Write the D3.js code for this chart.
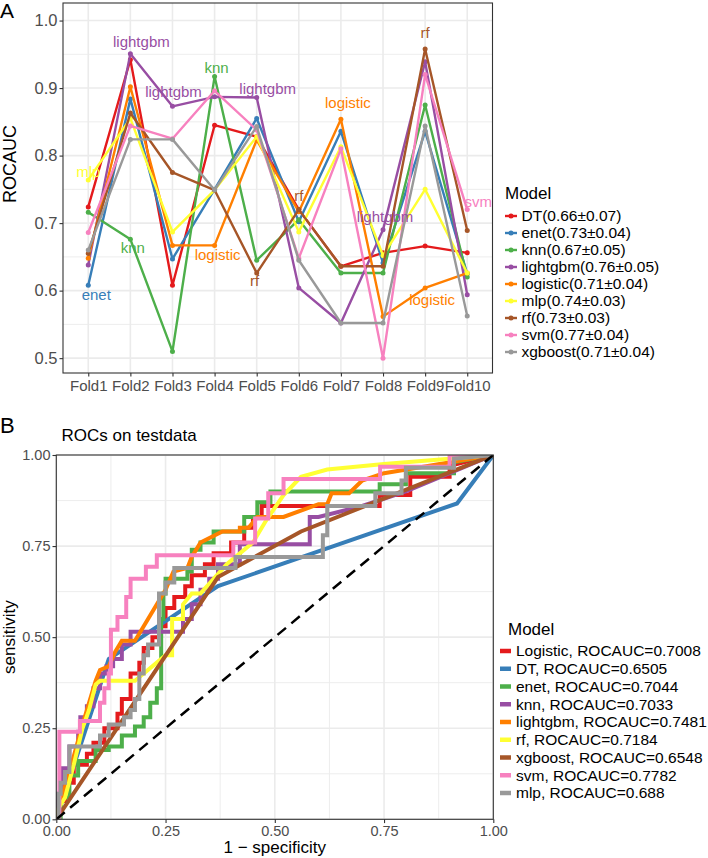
<!DOCTYPE html>
<html>
<head>
<meta charset="utf-8">
<script src="https://cdn.jsdelivr.net/npm/d3@7/dist/d3.min.js"></script>
<style>
  html, body { margin: 0; padding: 0; background: #fff; }
  svg { display: block; }
  text { font-family: "Liberation Sans", Arial, Helvetica, sans-serif; }
</style>
</head>
<body>
<script>
// ---------------- DATA ----------------
// Panel A: cross-validation ROCAUC per fold
const folds = ["Fold1","Fold2","Fold3","Fold4","Fold5","Fold6","Fold7","Fold8","Fold9","Fold10"];
const cvModels = ["DT","enet","knn","lightgbm","logistic","mlp","rf","svm","xgboost"];
const cvLegendLabels = ["DT(0.66±0.07)","enet(0.73±0.04)","knn(0.67±0.05)","lightgbm(0.76±0.05)",
  "logistic(0.71±0.04)","mlp(0.74±0.03)","rf(0.73±0.03)","svm(0.77±0.04)","xgboost(0.71±0.04)"];
const cvDT       = [0.724, 0.942, 0.608, 0.845, 0.828, 0.720, 0.636, 0.656, 0.666, 0.656];
const cvEnet     = [0.608, 0.884, 0.647, 0.750, 0.855, 0.702, 0.836, 0.641, 0.836, 0.625];
const cvKnn      = [0.716, 0.676, 0.510, 0.917, 0.645, 0.705, 0.626, 0.626, 0.875, 0.620];
const cvLightgbm = [0.638, 0.951, 0.873, 0.887, 0.886, 0.604, 0.552, 0.690, 0.939, 0.594];
const cvLogistic = [0.648, 0.902, 0.667, 0.667, 0.823, 0.717, 0.854, 0.5615, 0.604, 0.626];
const cvMlp      = [0.764, 0.855, 0.687, 0.749, 0.828, 0.687, 0.813, 0.652, 0.750, 0.626];
const cvRf       = [0.655, 0.863, 0.775, 0.749, 0.626, 0.720, 0.636, 0.636, 0.958, 0.689];
const cvSvm      = [0.686, 0.844, 0.825, 0.896, 0.838, 0.648, 0.810, 0.500, 0.920, 0.720];
const cvXgboost  = [0.660, 0.824, 0.824, 0.749, 0.843, 0.645, 0.552, 0.552, 0.844, 0.5625];
const yTicksA = [0.5, 0.6, 0.7, 0.8, 0.9, 1.0];

// Annotated extreme points in panel A
const labelModel = ["lightgbm","lightgbm","knn","lightgbm","logistic","rf","rf","svm","lightgbm","mlp",
                    "enet","knn","logistic","rf","logistic"];
const labelFold  = ["Fold2","Fold3","Fold4","Fold5","Fold7","Fold9","Fold6","Fold10","Fold8","Fold1",
                    "Fold1","Fold2","Fold4","Fold5","Fold9"];

// Panel B: ROC curves on test data, [1 - specificity, sensitivity]
const rocModels = ["Logistic","DT","enet","knn","lightgbm","rf","xgboost","svm","mlp"];
const rocAUC = ["0.7008","0.6505","0.7044","0.7033","0.7481","0.7184","0.6548","0.7782","0.688"];
const rocLogistic = [[0,0],[0.005,0],[0.005,0.05],[0.02,0.05],[0.02,0.1],[0.04,0.1],[0.04,0.15],[0.07,0.15],
  [0.07,0.18],[0.085,0.18],[0.085,0.21],[0.11,0.21],[0.11,0.25],[0.14,0.25],[0.14,0.29],[0.15,0.29],[0.15,0.33],
  [0.17,0.33],[0.17,0.4],[0.19,0.4],[0.19,0.43],[0.2,0.43],[0.2,0.47],[0.22,0.47],[0.22,0.5],[0.235,0.5],
  [0.235,0.53],[0.25,0.53],[0.25,0.58],[0.27,0.58],[0.27,0.61],[0.295,0.61],[0.295,0.64],[0.31,0.64],[0.31,0.67],
  [0.34,0.67],[0.34,0.7],[0.36,0.7],[0.36,0.73],[0.4,0.73],[0.4,0.76],[0.43,0.76],[0.43,0.8],[0.45,0.8],
  [0.45,0.83],[0.47,0.83],[0.47,0.86],[0.74,0.86],[0.74,0.89],[0.81,0.89],[0.81,0.94],[0.9,0.94],[0.9,0.97],[1,1]];
const rocDT = [[0,0],[0.12,0.44],[0.37,0.64],[0.917,0.867],[1,1]];
const rocEnet = [[0,0],[0.01,0],[0.01,0.06],[0.03,0.06],[0.03,0.12],[0.05,0.12],[0.05,0.16],[0.09,0.16],
  [0.09,0.19],[0.12,0.19],[0.12,0.2],[0.15,0.2],[0.15,0.23],[0.18,0.23],[0.18,0.255],[0.2,0.255],[0.2,0.28],
  [0.215,0.28],[0.215,0.32],[0.23,0.32],[0.23,0.36],[0.24,0.36],[0.24,0.55],[0.245,0.55],[0.245,0.62],
  [0.25,0.62],[0.25,0.66],[0.3,0.66],[0.3,0.68],[0.31,0.68],[0.31,0.74],[0.33,0.74],[0.33,0.76],[0.36,0.76],
  [0.36,0.79],[0.43,0.79],[0.43,0.83],[0.46,0.83],[0.46,0.87],[0.49,0.87],[0.49,0.9],[0.74,0.9],[0.74,0.92],
  [0.8,0.92],[0.8,0.95],[0.91,0.95],[0.91,0.98],[1,1]];
const rocKnn = [[0,0],[0.003,0],[0.003,0.07],[0.015,0.07],[0.015,0.14],[0.03,0.14],[0.03,0.2],[0.05,0.2],
  [0.05,0.24],[0.055,0.24],[0.055,0.28],[0.07,0.28],[0.07,0.31],[0.085,0.31],[0.085,0.36],[0.1,0.36],[0.1,0.4],
  [0.115,0.4],[0.115,0.42],[0.13,0.42],[0.13,0.44],[0.15,0.44],[0.15,0.48],[0.17,0.48],[0.17,0.515],[0.29,0.515],
  [0.29,0.55],[0.31,0.55],[0.31,0.59],[0.33,0.59],[0.33,0.63],[0.35,0.63],[0.35,0.66],[0.37,0.66],[0.37,0.7],
  [0.42,0.7],[0.42,0.755],[0.58,0.755],[0.58,0.83],[0.6,0.83],[0.7,0.86],[0.8,0.9],[0.9,0.95],[1,1]];
const rocLightgbm = [[0,0],[0.005,0.03],[0.03,0.13],[0.06,0.26],[0.09,0.38],[0.1,0.41],[0.12,0.42],[0.135,0.46],
  [0.15,0.49],[0.18,0.49],[0.2,0.53],[0.25,0.63],[0.268,0.68],[0.3,0.69],[0.31,0.72],[0.33,0.76],[0.38,0.79],
  [0.42,0.79],[0.42,0.8],[0.44,0.8],[0.46,0.83],[0.52,0.83],[0.6,0.865],[0.62,0.865],[0.63,0.895],[0.67,0.895],
  [0.7,0.93],[0.75,0.95],[0.85,0.97],[1,1]];
const rocRf = [[0,0],[0,0.02],[0.02,0.06],[0.04,0.15],[0.06,0.25],[0.075,0.3],[0.09,0.37],[0.1,0.38],[0.18,0.38],
  [0.2,0.4],[0.23,0.43],[0.25,0.45],[0.265,0.45],[0.265,0.55],[0.29,0.55],[0.29,0.59],[0.31,0.62],[0.33,0.62],
  [0.36,0.66],[0.39,0.7],[0.42,0.73],[0.45,0.76],[0.48,0.82],[0.52,0.89],[0.56,0.94],[0.62,0.96],[0.75,0.975],
  [0.9,0.99],[1,1]];
const rocXgboost = [[0,0],[0.37,0.665],[0.56,0.79],[1,1]];
const rocSvm = [[0,0],[0.007,0],[0.007,0.24],[0.054,0.24],[0.054,0.27],[0.1,0.27],[0.1,0.32],[0.11,0.32],
  [0.11,0.36],[0.12,0.36],[0.12,0.4],[0.125,0.4],[0.125,0.52],[0.14,0.52],[0.14,0.555],[0.16,0.555],[0.16,0.61],
  [0.17,0.61],[0.17,0.66],[0.205,0.66],[0.205,0.693],[0.23,0.693],[0.23,0.725],[0.405,0.725],[0.405,0.76],
  [0.455,0.76],[0.455,0.826],[0.485,0.826],[0.485,0.895],[0.52,0.895],[0.52,0.934],[0.741,0.934],[0.741,0.968],
  [0.9,0.968],[0.9,1],[1,1]];
const rocMlp = [[0,0],[0.005,0],[0.005,0.07],[0.01,0.07],[0.01,0.1],[0.02,0.1],[0.02,0.13],[0.03,0.13],
  [0.03,0.2],[0.1,0.2],[0.1,0.23],[0.12,0.23],[0.12,0.26],[0.155,0.26],[0.155,0.28],[0.17,0.28],[0.17,0.3],
  [0.18,0.3],[0.18,0.33],[0.19,0.33],[0.19,0.4],[0.2,0.4],[0.2,0.45],[0.21,0.45],[0.21,0.48],[0.235,0.48],
  [0.235,0.62],[0.25,0.62],[0.25,0.65],[0.27,0.65],[0.27,0.69],[0.41,0.69],[0.41,0.72],[0.61,0.72],[0.61,0.78],
  [0.62,0.78],[0.62,0.86],[0.73,0.86],[0.73,0.895],[0.79,0.895],[0.79,0.93],[0.8,0.93],[0.8,0.965],[0.91,0.965],
  [0.91,0.99],[1,1]];
const rocTicks = [0, 0.25, 0.5, 0.75, 1];

// ---------------- STYLE / LAYOUT ----------------
const set1 = ["#E41A1C","#377EB8","#4DAF4A","#984EA3","#FF7F00","#FFFF33","#A65628","#F781BF","#999999"];
const W = 708, H = 858;
const FONT_TICK_AY = 16.5, FONT_TICK_AX = 15, FONT_TICK_B = 14.5, FONT_TITLE = 17, FONT_LEG = 15.5, FONT_LBL = 15;

const svg = d3.select("body").append("svg").attr("width", W).attr("height", H);
svg.append("rect").attr("width", W).attr("height", H).attr("fill", "#fff");

// ================= PANEL A =================
const A = {l: 63, r: 492.5, t: 3, b: 373};
const xA = d3.scalePoint().domain(folds).range([A.l, A.r]).padding(0.6);
const yA = d3.scaleLinear().domain([0.478, 1.026]).range([A.b, A.t]);
const cvSeries = [cvDT, cvEnet, cvKnn, cvLightgbm, cvLogistic, cvMlp, cvRf, cvSvm, cvXgboost];
const colorA = d3.scaleOrdinal().domain(cvModels).range(set1);

const gA = svg.append("g");
const minorA = d3.range(0.55, 1.0, 0.1);
gA.selectAll(".minA").data(minorA).join("line")
  .attr("x1", A.l).attr("x2", A.r).attr("y1", d => yA(d)).attr("y2", d => yA(d))
  .attr("stroke", "#EBEBEB").attr("stroke-width", 0.9);
gA.selectAll(".majA").data(yTicksA).join("line")
  .attr("x1", A.l).attr("x2", A.r).attr("y1", d => yA(d)).attr("y2", d => yA(d))
  .attr("stroke", "#EBEBEB").attr("stroke-width", 1.6);
gA.selectAll(".vA").data(folds).join("line")
  .attr("x1", d => xA(d)).attr("x2", d => xA(d)).attr("y1", A.t).attr("y2", A.b)
  .attr("stroke", "#EBEBEB").attr("stroke-width", 1.6);

svg.append("clipPath").attr("id", "clipA").append("rect")
  .attr("x", A.l).attr("y", A.t).attr("width", A.r - A.l).attr("height", A.b - A.t);
const plotA = gA.append("g").attr("clip-path", "url(#clipA)");

const lineA = d3.line().x(d => xA(d.f)).y(d => yA(d.v));
cvModels.forEach((m, i) => {
  const pts = folds.map((f, j) => ({f, v: cvSeries[i][j]}));
  plotA.append("path").datum(pts).attr("d", lineA)
    .attr("fill", "none").attr("stroke", colorA(m)).attr("stroke-width", 2.4).attr("stroke-linejoin", "round");
  plotA.selectAll(null).data(pts).join("circle")
    .attr("cx", d => xA(d.f)).attr("cy", d => yA(d.v)).attr("r", 2.5).attr("fill", colorA(m));
});

// text labels (ggrepel-like placement offsets: [dx, baseline dy])
const labelNudge = [[11,-7],[1,-9],[2,-4],[11,-4],[7,-11],[0,-11],[0,-9],[11,-3],[2,-8],[0,-3],
                    [8,15],[2.5,14],[3,15],[-2,13],[7,17]];
labelModel.forEach((m, k) => {
  const i = cvModels.indexOf(m), j = folds.indexOf(labelFold[k]);
  plotA.append("text")
    .attr("x", xA(labelFold[k]) + labelNudge[k][0])
    .attr("y", yA(cvSeries[i][j]) + labelNudge[k][1])
    .attr("text-anchor", "middle").attr("font-size", FONT_LBL).attr("fill", colorA(m)).text(m);
});

gA.append("rect").attr("x", A.l).attr("y", A.t).attr("width", A.r - A.l).attr("height", A.b - A.t)
  .attr("fill", "none").attr("stroke", "#333").attr("stroke-width", 1.1);

const axYA = gA.append("g").attr("transform", `translate(${A.l},0)`)
  .call(d3.axisLeft(yA).tickValues(yTicksA).tickFormat(d3.format(".1f")).tickSize(3.5).tickPadding(2));
const axXA = gA.append("g").attr("transform", `translate(0,${A.b})`)
  .call(d3.axisBottom(xA).tickSize(3.5).tickPadding(3.8));
[[axYA, FONT_TICK_AY], [axXA, FONT_TICK_AX]].forEach(([ax, fs]) => {
  ax.select(".domain").remove();
  ax.selectAll(".tick line").attr("stroke", "#333").attr("stroke-width", 1.1);
  ax.selectAll(".tick text").attr("fill", "#4D4D4D").attr("font-size", fs)
    .attr("font-family", "Liberation Sans, Arial, sans-serif");
});

svg.append("text").attr("transform", "translate(16,164) rotate(-90)")
  .attr("text-anchor", "middle").attr("font-size", 18).attr("fill", "#000").text("ROCAUC");
svg.append("text").attr("x", 0).attr("y", 18).attr("font-size", 21).text("A");

// legend A
const legA = svg.append("g");
legA.append("text").attr("x", 505).attr("y", 199).attr("font-size", FONT_TITLE).text("Model");
cvModels.forEach((m, i) => {
  const cy = 216 + i * 17;
  legA.append("line").attr("x1", 505).attr("x2", 517).attr("y1", cy).attr("y2", cy)
    .attr("stroke", colorA(m)).attr("stroke-width", 2.4);
  legA.append("circle").attr("cx", 511).attr("cy", cy).attr("r", 2.5).attr("fill", colorA(m));
  legA.append("text").attr("x", 521.5).attr("y", cy).attr("dy", "0.35em")
    .attr("font-size", FONT_LEG).text(cvLegendLabels[i]);
});

// ================= PANEL B =================
const B = {l: 56.3, r: 493.3, t: 455, b: 819.3};
const xB = d3.scaleLinear().domain([0, 1]).range([B.l, B.r]);
const yB = d3.scaleLinear().domain([0, 1]).range([B.b, B.t]);
const colorB = d3.scaleOrdinal().domain(rocModels).range(set1);
const rocSeries = [rocLogistic, rocDT, rocEnet, rocKnn, rocLightgbm, rocRf, rocXgboost, rocSvm, rocMlp];

const gB = svg.append("g");
const minorB = [0.125, 0.375, 0.625, 0.875];
gB.selectAll(".mnx").data(minorB).join("line")
  .attr("x1", d => xB(d)).attr("x2", d => xB(d)).attr("y1", B.t).attr("y2", B.b)
  .attr("stroke", "#EBEBEB").attr("stroke-width", 0.9);
gB.selectAll(".mny").data(minorB).join("line")
  .attr("y1", d => yB(d)).attr("y2", d => yB(d)).attr("x1", B.l).attr("x2", B.r)
  .attr("stroke", "#EBEBEB").attr("stroke-width", 0.9);
gB.selectAll(".mjx").data(rocTicks).join("line")
  .attr("x1", d => xB(d)).attr("x2", d => xB(d)).attr("y1", B.t).attr("y2", B.b)
  .attr("stroke", "#EBEBEB").attr("stroke-width", 1.6);
gB.selectAll(".mjy").data(rocTicks).join("line")
  .attr("y1", d => yB(d)).attr("y2", d => yB(d)).attr("x1", B.l).attr("x2", B.r)
  .attr("stroke", "#EBEBEB").attr("stroke-width", 1.6);

svg.append("clipPath").attr("id", "clipB").append("rect")
  .attr("x", B.l).attr("y", B.t).attr("width", B.r - B.l).attr("height", B.b - B.t);
const plotB = gB.append("g").attr("clip-path", "url(#clipB)");
const lineB = d3.line().x(d => xB(d[0])).y(d => yB(d[1]));
rocModels.forEach((m, i) => {
  plotB.append("path").datum(rocSeries[i]).attr("d", lineB)
    .attr("fill", "none").attr("stroke", colorB(m)).attr("stroke-width", 4)
    .attr("stroke-linejoin", "miter").attr("stroke-linecap", "butt");
});
plotB.append("path").datum([[0,0],[1,1]]).attr("d", lineB)
  .attr("fill", "none").attr("stroke", "#000").attr("stroke-width", 2.5).attr("stroke-dasharray", "11,7");

gB.append("rect").attr("x", B.l).attr("y", B.t).attr("width", B.r - B.l).attr("height", B.b - B.t)
  .attr("fill", "none").attr("stroke", "#333").attr("stroke-width", 1.1);

const fmt2 = d3.format(".2f");
const axYB = gB.append("g").attr("transform", `translate(${B.l},0)`)
  .call(d3.axisLeft(yB).tickValues(rocTicks).tickFormat(fmt2).tickSize(3.8).tickPadding(2));
const axXB = gB.append("g").attr("transform", `translate(0,${B.b})`)
  .call(d3.axisBottom(xB).tickValues(rocTicks).tickFormat(fmt2).tickSize(3.8).tickPadding(2.6));
[axYB, axXB].forEach(ax => {
  ax.select(".domain").remove();
  ax.selectAll(".tick line").attr("stroke", "#333").attr("stroke-width", 1.1);
  ax.selectAll(".tick text").attr("fill", "#4D4D4D").attr("font-size", FONT_TICK_B)
    .attr("font-family", "Liberation Sans, Arial, sans-serif");
});

svg.append("text").attr("x", 0).attr("y", 433).attr("font-size", 22).text("B");
svg.append("text").attr("x", 61.5).attr("y", 441).attr("font-size", FONT_TITLE).text("ROCs on testdata");
svg.append("text").attr("x", (B.l + B.r) / 2).attr("y", 853).attr("text-anchor", "middle")
  .attr("font-size", FONT_TITLE).text("1 \u2212 specificity");
svg.append("text").attr("transform", `translate(15,${(B.t + B.b) / 2}) rotate(-90)`)
  .attr("text-anchor", "middle").attr("font-size", FONT_TITLE).text("sensitivity");

// legend B
const legB = svg.append("g");
legB.append("text").attr("x", 508).attr("y", 635).attr("font-size", FONT_TITLE).text("Model");
rocModels.forEach((m, i) => {
  const cy = 651 + i * 17.75;
  legB.append("line").attr("x1", 500).attr("x2", 511).attr("y1", cy).attr("y2", cy)
    .attr("stroke", colorB(m)).attr("stroke-width", 4.5);
  legB.append("text").attr("x", 516).attr("y", cy).attr("dy", "0.35em")
    .attr("font-size", FONT_LEG).text(`${m}, ROCAUC=${rocAUC[i]}`);
});
</script>
</body>
</html>
